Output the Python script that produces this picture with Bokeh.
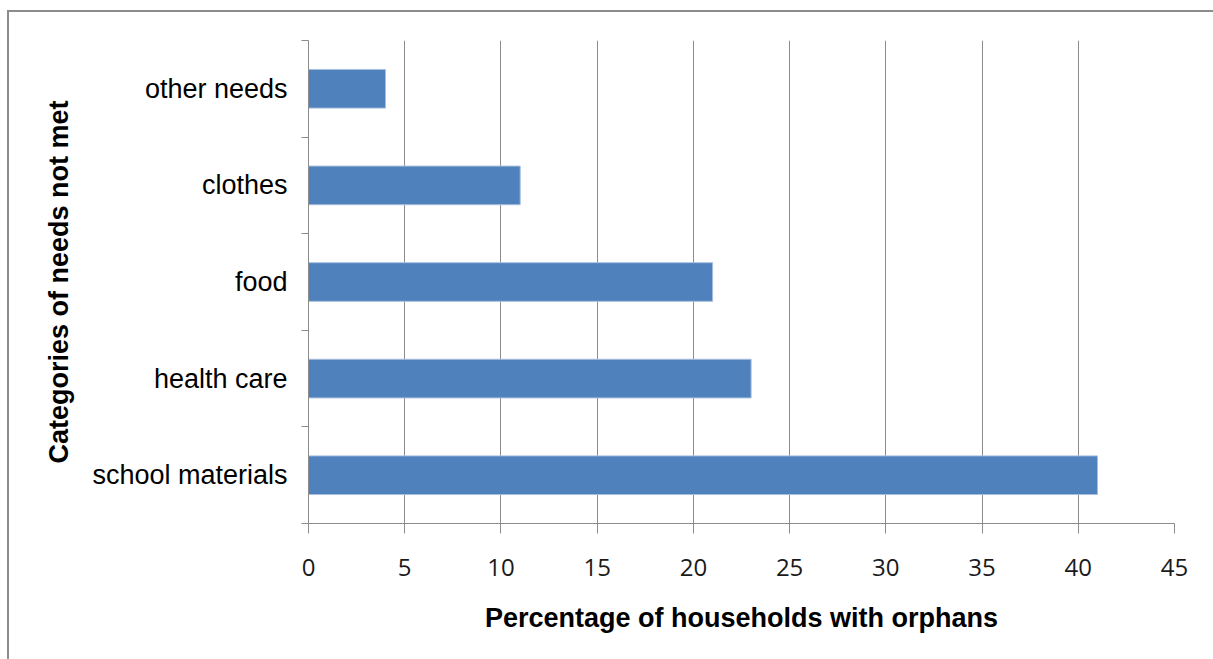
from bokeh.plotting import figure
from bokeh.models import ColumnDataSource, FixedTicker, Range1d
from bokeh.embed import file_html
from bokeh.resources import INLINE

# Needs not met, listed bottom to top
categories = ["school materials", "health care", "food", "clothes", "other needs"]
percentages = [41, 23, 21, 11, 4]
x_ticks = [0, 5, 10, 15, 20, 25, 30, 35, 40, 45]

positions = [i + 0.5 for i in range(len(categories))]
source = ColumnDataSource(data=dict(cat=categories, pct=percentages, pos=positions))

grey = "#8c8c8c"

p = figure(
    width=1213, height=659,
    output_backend="svg", toolbar_location=None,
    x_range=Range1d(0, 45), y_range=Range1d(0, len(categories)),
    min_border_left=308, min_border_right=39,
    min_border_top=40, min_border_bottom=136,
)

# thin grey chart-area frame along the top and left edges, painted behind
# a transparent canvas so it does not affect the layout
p.border_fill_color = None
p.background_fill_color = "white"
p.styles = {
    "background-color": "white",
    "background-image": (
        f"linear-gradient(to bottom, {grey} 2px, transparent 2px), "
        f"linear-gradient(to right, {grey} 2px, transparent 2px)"
    ),
    "background-size": "100% 100%, 100% 100%",
    "background-position": "7px 10px, 7px 10px",
    "background-repeat": "no-repeat",
}

p.hbar(y="pos", right="pct", left=0, height=0.4, source=source,
       fill_color="#4F81BD", line_color="#A7BFDE", line_width=1)

p.outline_line_color = None

# x axis
xa = p.xaxis[0]
xa.ticker = FixedTicker(ticks=x_ticks)
xa.axis_line_color = grey
xa.major_tick_line_color = grey
xa.major_tick_out = 10
xa.major_tick_in = 0
xa.minor_tick_line_color = None
xa.major_label_text_font = "Open Sans"
xa.major_label_text_font_size = "24px"
xa.major_label_text_color = "#1a1a1a"
xa.major_label_standoff = 25
xa.axis_label = "Percentage of households with orphans"
xa.axis_label_text_font = "Liberation Sans"
xa.axis_label_text_font_style = "bold"
xa.axis_label_text_font_size = "27px"
xa.axis_label_text_color = "black"
xa.axis_label_standoff = 24

# y axis: labels at category centres, tick marks on category boundaries
ya = p.yaxis[0]
ya.ticker = FixedTicker(ticks=positions, minor_ticks=list(range(len(categories) + 1)))
ya.major_label_overrides = {pos: cat for pos, cat in zip(positions, categories)}
ya.axis_line_color = grey
ya.major_tick_line_color = None
ya.major_tick_out = 0
ya.major_tick_in = 0
ya.minor_tick_line_color = grey
ya.minor_tick_out = 7
ya.minor_tick_in = 0
ya.major_label_text_font = "Liberation Sans"
ya.major_label_text_font_size = "27px"
ya.major_label_text_color = "black"
ya.major_label_standoff = 14
ya.axis_label = "Categories of needs not met"
ya.axis_label_text_font = "Liberation Sans"
ya.axis_label_text_font_style = "bold"
ya.axis_label_text_font_size = "27px"
ya.axis_label_text_color = "black"
ya.axis_label_standoff = 15

p.xgrid.ticker = FixedTicker(ticks=x_ticks)
p.xgrid.grid_line_color = grey
p.xgrid.grid_line_width = 1
p.ygrid.grid_line_color = None

open("out.html", "w").write(file_html(p, INLINE))
